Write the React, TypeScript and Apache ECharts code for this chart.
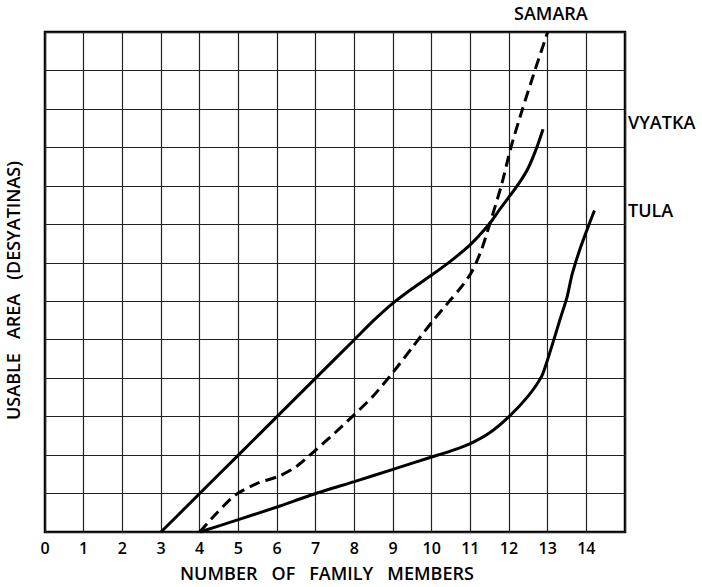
import React, { useEffect, useRef } from "react";
import * as echarts from "echarts";

const xTicks = [0, 1, 2, 3, 4, 5, 6, 7, 8, 9, 10, 11, 12, 13, 14];

const vyatka: [number, number][] = [
  [3, 0], [4, 1], [5, 2], [6, 3], [7, 4], [8, 5], [8.5, 5.5], [9, 5.95],
  [9.5, 6.33], [10, 6.68], [10.5, 7.05], [11, 7.47], [11.5, 8.02],
  [11.77, 8.4], [12.03, 8.75], [12.3, 9.13], [12.5, 9.47], [12.72, 10],
  [12.88, 10.47],
];

const samara: [number, number][] = [
  [4, 0], [4.45, 0.5], [4.93, 0.97], [5.5, 1.27], [6.05, 1.45], [6.5, 1.7],
  [7, 2.13], [7.5, 2.58], [8, 3.05], [8.5, 3.55], [9, 4.15], [9.5, 4.8],
  [10, 5.45], [10.5, 6.05], [10.75, 6.35], [11, 6.7], [11.15, 7.0],
  [11.3, 7.37], [11.5, 8], [11.8, 9], [12.05, 10], [12.35, 11], [12.67, 12],
  [13, 13],
];

const tula: [number, number][] = [
  [4, 0], [5, 0.32], [6, 0.65], [7, 1.0], [8, 1.31], [9, 1.63], [10, 1.95],
  [10.5, 2.11], [11, 2.3], [11.5, 2.58], [12, 3.0], [12.5, 3.54],
  [12.85, 4.06], [13.02, 4.55], [13.16, 5.0], [13.33, 5.56], [13.5, 6.1],
  [13.63, 6.69], [13.84, 7.37], [14.06, 7.97], [14.21, 8.36],
];

const seriesNames = ["SAMARA", "VYATKA", "TULA"];
const xTitle = "NUMBER   OF   FAMILY   MEMBERS";
const yTitle = "USABLE   AREA   (DESYATINAS)";

const FONT = "'Open Sans', 'DejaVu Sans', sans-serif";
const LABEL_FONT = `600 18px ${FONT}`;

export default function App() {
  const ref = useRef<HTMLDivElement>(null);
  useEffect(() => {
    if (!ref.current) return;
    const chart = echarts.init(ref.current, undefined, { renderer: "svg" });
    const lineStyle = { color: "#000", width: 3 };
    const common = { type: "line", symbol: "none", smooth: 0.25 };
    chart.setOption({
      animation: false,
      backgroundColor: "#fff",
      grid: {
        left: 45, top: 32, width: 580, height: 500,
        show: true, borderColor: "#000", borderWidth: 2.5,
      },
      xAxis: {
        type: "value", min: 0, max: 15, interval: 1,
        axisLine: { show: false },
        axisTick: { show: false },
        splitLine: { show: true, lineStyle: { color: "#222", width: 1.2 } },
        axisLabel: {
          color: "#000", fontSize: 16, fontFamily: FONT, fontWeight: 600, margin: 8,
          formatter: (v: number) => (xTicks.includes(v) ? String(v) : ""),
        },
      },
      yAxis: {
        type: "value", min: 0, max: 13, interval: 1,
        axisLine: { show: false },
        axisTick: { show: false },
        axisLabel: { show: false },
        splitLine: { show: true, lineStyle: { color: "#222", width: 1.2 } },
      },
      series: [
        { ...common, name: seriesNames[0], data: samara, lineStyle: { ...lineStyle, type: [11, 6] } },
        { ...common, name: seriesNames[1], data: vyatka, lineStyle },
        { ...common, name: seriesNames[2], data: tula, smooth: 0.2, lineStyle },
      ],
      graphic: [
        { type: "text", left: 514, top: 4, style: { text: seriesNames[0], fill: "#000", font: LABEL_FONT } },
        { type: "text", left: 628, top: 113, style: { text: seriesNames[1], fill: "#000", font: LABEL_FONT } },
        { type: "text", left: 628, top: 201, style: { text: seriesNames[2], fill: "#000", font: LABEL_FONT } },
        { type: "text", left: 180, top: 564, style: { text: xTitle, fill: "#000", font: LABEL_FONT } },
        { type: "text", x: 4, y: 420, rotation: Math.PI / 2, style: { text: yTitle, fill: "#000", font: LABEL_FONT, verticalAlign: "top", align: "left" } },
      ],
    });
    return () => chart.dispose();
  }, []);
  return <div ref={ref} style={{ position: "fixed", left: 0, top: 0, width: 702, height: 587 }} />;
}
